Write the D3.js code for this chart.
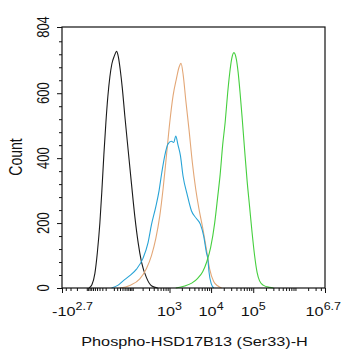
<!DOCTYPE html>
<html>
<head>
<meta charset="utf-8">
<script src="https://cdn.jsdelivr.net/npm/d3@7"></script>
<style>
  html, body { margin: 0; padding: 0; background: #fff; }
  svg { display: block; font-family: "Liberation Sans", Arial, sans-serif; }
</style>
</head>
<body>
<svg id="chart" width="342" height="350"></svg>
<script>
// Histogram points: [fluorescence intensity, event count]
const isotypeCurve = [[-84.8,0],[-66,10],[-50,45],[-38.6,110],[-28.6,200],[-21.5,300],[-15.2,410],[-9.4,510],[-4.4,590],[0.2,650],[4.8,690],[11.4,715],[17.9,729],[23.9,712],[31.2,670],[39.4,615],[51,530],[69,425],[91,320],[117,220],[148,140],[186,80],[256,32],[356,6],[508,0]];
const blueCurve = [[4.1,0],[22,8],[43,22],[79,38],[132,58],[206,92],[283,140],[349,195],[452,250],[549,300],[642,355],[764,408],[921,444],[1116,452],[1270,448],[1421,468],[1616,440],[1847,408],[2135,345],[2663,290],[3396,238],[4470,214],[5568,196],[6672,160],[7728,110],[8444,86],[8916,50],[10170,12],[11530,0]];
const orangeCurve = [[29,0],[79,8],[166,28],[256,60],[349,100],[452,152],[572,222],[692,305],[841,408],[1014,510],[1222,592],[1478,645],[1709,680],[1910,692],[2159,655],[2480,580],[2974,488],[3586,385],[4300,305],[5156,243],[6216,190],[7728,120],[9260,58],[11530,20],[14570,6],[17830,0]];
const greenCurve = [[1421,0],[2344,6],[3452,15],[4800,30],[6316,50],[7864,80],[9780,125],[12170,200],[14340,280],[16440,350],[18840,440],[21580,510],[24730,600],[27580,660],[30760,705],[34860,725],[39740,705],[43820,665],[48880,600],[54560,525],[62520,425],[71580,330],[82080,250],[94000,170],[107700,100],[123400,48],[141300,22],[175700,8],[243800,2],[303200,0]];

const seriesNames = ["isotype", "blue", "orange", "green"];
const seriesColors = ["#1a1a1a", "#27a3d6", "#e3a777", "#45cf3e"];

// Axis ticks and labels
const xMajorTicks = [-501.187, 1000, 10000, 100000, 5011872];
const xTickBases = ["-10", "10", "10", "10", "10"];
const xTickExps = ["2.7", "3", "4", "5", "6.7"];
const yMajorTicks = [0, 200, 400, 600, 804];
const xTitle = "Phospho-HSD17B13 (Ser33)-H";
const yTitle = "Count";

const W = 342, H = 350;
const margin = { left: 62, right: 17, top: 27, bottom: 62 };
const svg = d3.select("#chart");

const x = d3.scaleSymlog().constant(40)
  .domain([xMajorTicks[0], xMajorTicks[xMajorTicks.length - 1]])
  .range([margin.left, W - margin.right]);
const y = d3.scaleLinear().domain([0, 804]).range([H - margin.bottom, margin.top]);

const stretch = 1.25; // glyphs are drawn wider than tall

// minor ticks on the bi-exponential axis
const xMinor = [];
[-400, -300, -200, -100].forEach(v => xMinor.push(v));
for (let v = -90; v <= 90; v += 10) if (v !== 0) xMinor.push(v);
for (let e = 2; e <= 6; e++) {
  for (let m = 1; m <= 9; m++) {
    const v = m * Math.pow(10, e);
    if (v < x.domain()[1] && !xMajorTicks.includes(v)) xMinor.push(v);
  }
}
const yMinor = d3.range(40, 804, 40).filter(v => v % 200 !== 0);

// curves
const line = d3.line().x(d => x(d[0])).y(d => y(d[1])).curve(d3.curveMonotoneX);
const curves = [isotypeCurve, orangeCurve, blueCurve, greenCurve];
const curveColors = [seriesColors[0], seriesColors[2], seriesColors[1], seriesColors[3]];
svg.append("g").selectAll("path").data(curves).join("path")
  .attr("d", line)
  .attr("fill", "none")
  .attr("stroke", (d, i) => curveColors[i])
  .attr("stroke-width", 1.1)
  .attr("stroke-linejoin", "round");

// frame
svg.append("rect")
  .attr("x", x.range()[0]).attr("y", y.range()[1])
  .attr("width", x.range()[1] - x.range()[0])
  .attr("height", y.range()[0] - y.range()[1])
  .attr("fill", "none").attr("stroke", "#111").attr("stroke-width", 1.2);

// bottom axis
const xAxisMajor = d3.axisBottom(x).tickValues(xMajorTicks).tickSize(5).tickSizeOuter(0).tickFormat("");
const xAxisMinor = d3.axisBottom(x).tickValues(xMinor).tickSize(3).tickSizeOuter(0).tickFormat("");
[xAxisMinor, xAxisMajor].forEach(ax => {
  const g = svg.append("g").attr("transform", `translate(0,${y.range()[0]})`).call(ax);
  g.select(".domain").remove();
  g.selectAll("line").attr("stroke", "#111").attr("stroke-width", 1);
});

// left axis
const yAxisMajor = d3.axisLeft(y).tickValues(yMajorTicks).tickSize(5).tickSizeOuter(0).tickFormat("");
const yAxisMinor = d3.axisLeft(y).tickValues(yMinor).tickSize(3).tickSizeOuter(0).tickFormat("");
[yAxisMinor, yAxisMajor].forEach(ax => {
  const g = svg.append("g").attr("transform", `translate(${x.range()[0]},0)`).call(ax);
  g.select(".domain").remove();
  g.selectAll("line").attr("stroke", "#111").attr("stroke-width", 1);
});

// x tick labels with superscript exponents
const xLabels = svg.append("g").attr("fill", "#111");
xMajorTicks.forEach((v, i) => {
  const t = xLabels.append("text")
    .attr("text-anchor", "middle")
    .attr("font-size", 13)
    .attr("transform", `translate(${x(v)},316) scale(${stretch},1)`);
  t.append("tspan").text(xTickBases[i]);
  t.append("tspan").attr("font-size", 10).attr("dy", -6).text(xTickExps[i]);
  const w = t.node().getBBox().width * stretch;
  let cx = x(v);
  if (i === 0) cx = x(v) - 10 + w / 2;
  if (cx + w / 2 > W - 1) cx = W - 1 - w / 2;
  t.attr("transform", `translate(${cx},316) scale(${stretch},1)`);
});

// y tick labels, rotated
svg.append("g").attr("fill", "#111").selectAll("text").data(yMajorTicks).join("text")
  .attr("text-anchor", "middle")
  .attr("font-size", 13)
  .attr("transform", d => `translate(49,${y(d)}) scale(${stretch},1) rotate(-90)`)
  .text(d => d);

// axis titles
svg.append("text")
  .attr("text-anchor", "middle").attr("font-size", 13).attr("fill", "#111")
  .attr("transform", `translate(${(x.range()[0] + x.range()[1]) / 2 + 1},346) scale(${stretch},1)`)
  .text(xTitle);
svg.append("text")
  .attr("text-anchor", "middle").attr("font-size", 14).attr("fill", "#111")
  .attr("transform", `translate(21.5,157) scale(${stretch},1) rotate(-90)`)
  .text(yTitle);
</script>
</body>
</html>
